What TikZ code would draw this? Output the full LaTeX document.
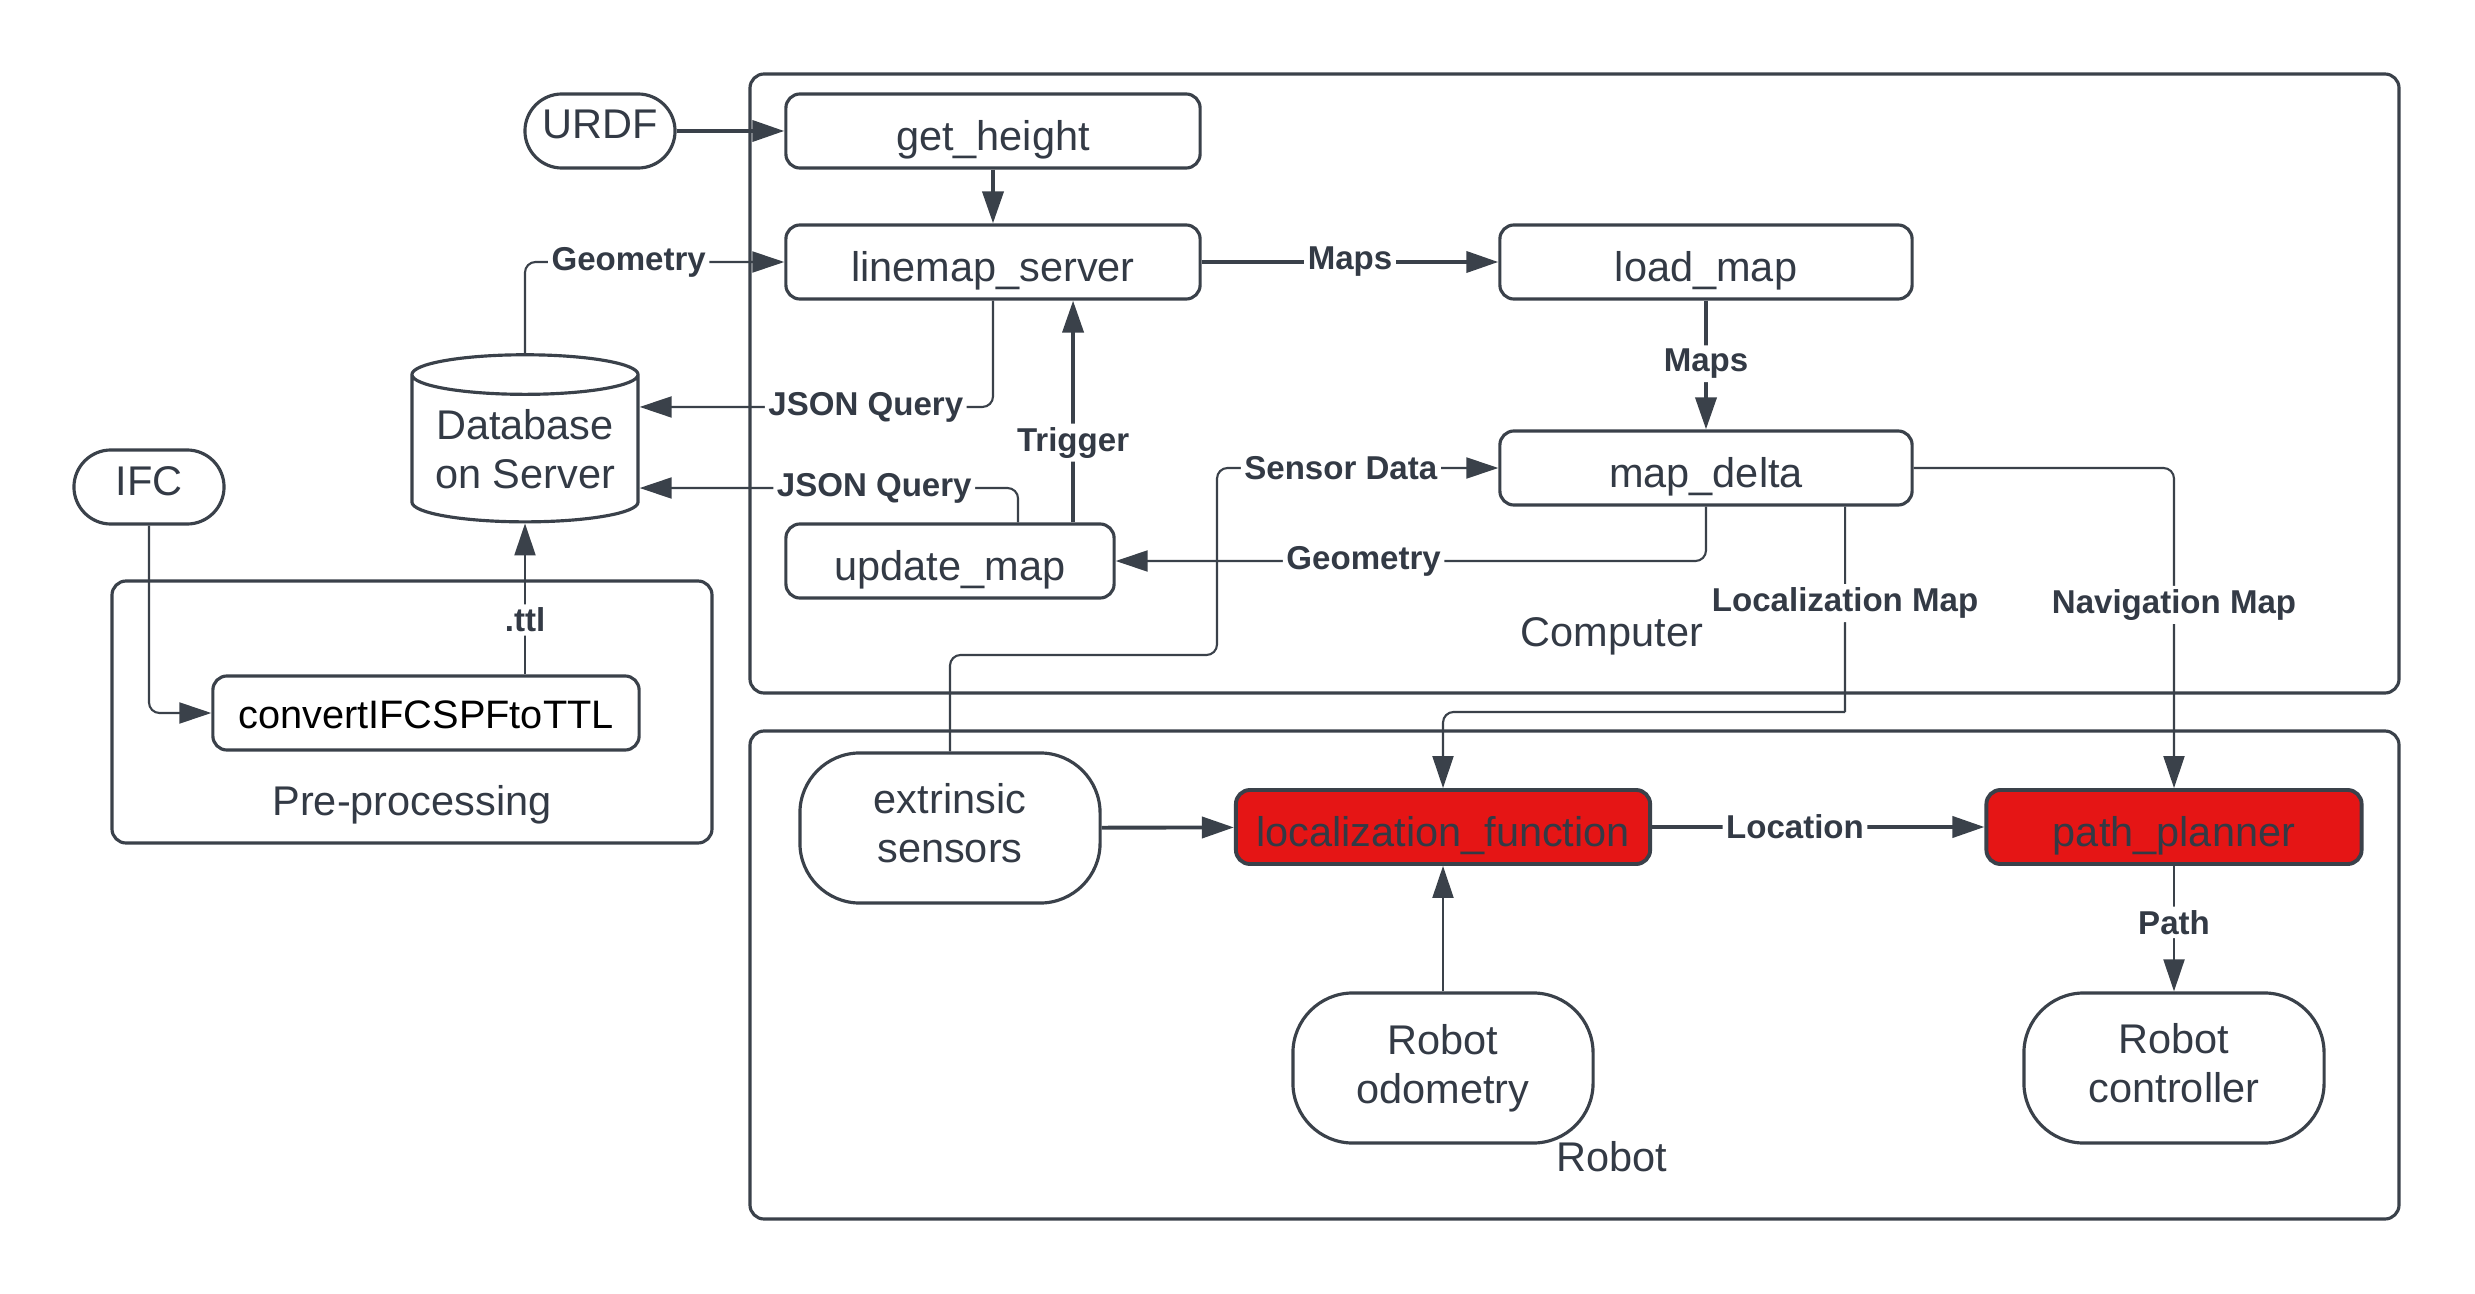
\documentclass[tikz,border=0pt]{standalone}
\usepackage{fontspec}
\setmainfont{Liberation Sans}
\usetikzlibrary{arrows.meta, shapes.geometric}

\definecolor{inkgray}{HTML}{3A414A}
\definecolor{txtgray}{HTML}{333A45}
\definecolor{procred}{HTML}{E51515}

\newcommand{\lowpad}{\rule[-0.23em]{0pt}{0pt}}

\begin{document}
\begin{tikzpicture}[
x=0.01cm, y=-0.01cm,
line join=round,
procnode/.style={
rectangle,
draw=inkgray,
line width=0.9pt,
rounded corners=4pt,
text=txtgray,
minimum height=0.74cm,
inner sep=0 pt,
text height=1.17em,
text depth=0.05em,
font=\fontsize{11.8}{14}\selectfont,
},
hotnode/.style={
procnode,
fill=procred,
line width=1.1pt,
},
termnode/.style={
procnode,
rounded corners=0.37cm,
minimum width=1.5cm,
text height=0.5em,
text depth=0.05em,
},
devnode/.style={
procnode,
align=center,
rounded corners=0.6cm,
minimum width=3cm,
minimum height=1.5cm,
text height={},
text depth={},
},
dbnode/.style={
cylinder,
shape border rotate=90,
aspect=0.22,
draw=inkgray,
line width=0.9pt,
text=txtgray,
align=center,
minimum width=2.26cm,
minimum height=1.67cm,
inner sep=0 pt,
font=\fontsize{11.8}{14}\selectfont,
},
container/.style={
draw=inkgray,
line width=0.9pt,
rounded corners=4pt,
},
boxtitle/.style={
text=txtgray,
font=\fontsize{11.8}{14}\selectfont,
},
flow/.style={
draw=inkgray,
line width=1.1pt,
rounded corners=3pt,
-{Triangle[length=0.32cm, width=0.21cm]},
},
thinflow/.style={
flow,
line width=0.6pt,
},
lbl/.style={
fill=white,
text=txtgray,
inner sep=1pt,
font=\fontsize{9.4}{11}\bfseries,
},
]

\useasboundingbox (0,0) rectangle (2475,1294);

% containers
\draw[container] (750,74) rectangle (2399,693);
\draw[container] (750,731) rectangle (2399,1219);
\draw[container] (112,581) rectangle (712,843);

\node[boxtitle] at (1612,636) (computer) {Computer};
\node[boxtitle] at (1612,1157) (robot) {Robot};
\node[boxtitle] at (412,805) (preproc) {Pre-processing};

% computer nodes
\node [termnode] at (600,131) (urdf) {URDF};
\node [procnode, minimum width=4.14cm] at (993,131) (geth) {get\_height};
\node [procnode, minimum width=4.14cm] at (993,262) (lms) {linemap\_server};
\node [procnode, minimum width=4.12cm] at (1706,262) (load) {load\_map};
\node [procnode, minimum width=4.12cm] at (1706,468) (md) {map\_delta};
\node [procnode, minimum width=3.28cm] at (950,561) (upd) {update\_map};

% database and pre-processing
\node [dbnode] at (525,449) (db) {Database\\on Server};
\node [termnode, text height=0.55em] at (149,487) (ifc) {IFC};
\node [procnode, minimum width=4.26cm, text=black, text height=0.95em,
font=\fontsize{11.3}{14}\selectfont] at (426,713) (conv) {convertIFCSPFtoTTL};

% robot nodes
\node [devnode] at (950,828) (ext) {extrinsic\\sensors\lowpad};
\node [hotnode, minimum width=4.14cm] at (1443,827) (loc) {localization\_function};
\node [hotnode, minimum width=3.75cm] at (2174,827) (pp) {path\_planner};
\node [devnode] at (1443,1068) (odo) {Robot\\odometry};
\node [devnode] at (2174,1068) (ctrl) {Robot\\controller\lowpad};

% bends
\path
([xshift=0.68cm]upd.north) coordinate(qry)
([xshift=1.23cm]upd.north) coordinate(trg)
([xshift=1.39cm]md.south) coordinate(lmap)
(1217,655) coordinate(sensbend)
(1845,712) coordinate(locturn)
;

% computer flows
\draw[flow] (urdf) -- (geth);
\draw[flow] (geth) -- (lms);
\draw[thinflow] (db.north) |- node[lbl, pos=0.7] {Geometry} (lms.west);
\draw[thinflow] (lms.south) |- node[lbl, pos=0.68] {JSON Query} ([yshift=0.42cm]db.east);
\draw[thinflow] (qry) |- node[lbl, pos=0.69] {JSON Query} ([yshift=-0.39cm]db.east);
\draw[flow] (trg) -- node[lbl, pos=0.36] {Trigger} (trg |- lms.south);
\draw[flow] (lms) -- node[lbl, pos=0.5] {Maps} (load);
\draw[flow] (load) -- node[lbl, pos=0.49] {Maps} (md);
\draw[thinflow] (md.south) |- node[lbl, pos=0.79] {Geometry} (upd.east);
\draw[thinflow] (ext.north) |- (sensbend) |- node[lbl, pos=0.72] {Sensor Data} (md.west);

% maps to robot
\draw[thinflow, -] (lmap) -- node[lbl, pos=0.47] {Localization Map} (locturn);
\draw[thinflow] (locturn) -| (loc.north);
\draw[thinflow] (md.east) -| node[lbl, pos=0.714] {Navigation Map} (pp.north);

% robot flows
\draw[flow] (ext) -- (loc);
\draw[flow] (loc) -- node[lbl, pos=0.43] {Location} (pp);
\draw[thinflow] (odo) -- (loc);
\draw[thinflow] (pp) -- node[lbl, pos=0.45] {Path} (ctrl);

% pre-processing flows
\draw[thinflow] (ifc.south) |- (conv.west);
\draw[thinflow] (conv.north -| db.south) -- node[lbl, pos=0.36] {.ttl} (db.south);

\end{tikzpicture}
\end{document}
